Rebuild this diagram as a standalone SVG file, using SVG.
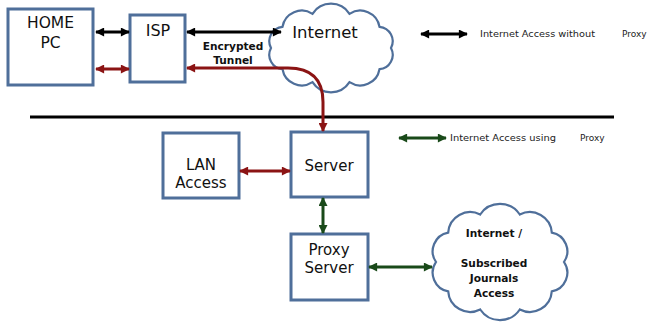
<svg xmlns="http://www.w3.org/2000/svg" width="649" height="323" viewBox="0 0 649 323">
<style>
.box{fill:#fff;stroke:#4f6f9a;stroke-width:3}
.cloud{fill:#fff;stroke:#4f6f9a;stroke-width:2.2}
.t{font-family:"DejaVu Sans",Verdana,sans-serif;font-size:15px;fill:#111;text-anchor:middle}
.tb{font-family:"DejaVu Sans",Verdana,sans-serif;font-size:10.6px;font-weight:bold;fill:#111;text-anchor:middle}
.lg{font-family:"DejaVu Sans",Verdana,sans-serif;font-size:9px;fill:#222}
.k{stroke:#000;stroke-width:3;fill:none}
.r{stroke:#8b1414;stroke-width:3;fill:none}
.g{stroke:#1a4a1a;stroke-width:3;fill:none}
</style>
<defs>
<marker id="ak" viewBox="0 0 10 10" refX="9" refY="5" markerWidth="10" markerHeight="9" markerUnits="userSpaceOnUse" orient="auto-start-reverse"><path d="M0,0 L10,5 L0,10 Z" fill="#000"/></marker>
<marker id="ar" viewBox="0 0 10 10" refX="9" refY="5" markerWidth="10" markerHeight="9" markerUnits="userSpaceOnUse" orient="auto-start-reverse"><path d="M0,0 L10,5 L0,10 Z" fill="#8b1414"/></marker>
<marker id="ag" viewBox="0 0 10 10" refX="9" refY="5" markerWidth="10" markerHeight="9" markerUnits="userSpaceOnUse" orient="auto-start-reverse"><path d="M0,0 L10,5 L0,10 Z" fill="#1a4a1a"/></marker>
</defs>
<rect width="649" height="323" fill="#fff"/>
<g id="home-pc"><rect class="box" x="8" y="9" width="85" height="76"/><text class="t" x="50.5" y="28" style="font-size:15.5px">HOME</text><text class="t" x="50.5" y="48" style="font-size:15.5px">PC</text></g>
<g id="isp"><rect class="box" x="130" y="15" width="55" height="67"/><text class="t" x="158" y="36" style="font-size:16px">ISP</text></g>
<g id="internet"><path class="cloud" d="M312.5,13.8 A22,22 0 0 1 349.5,13.8 A19.6,19.6 0 0 1 379.5,26.8 A14.5,14.5 0 0 1 391,48 A14.5,14.5 0 0 1 379.5,69.2 A19.6,19.6 0 0 1 349.5,82.2 A22,22 0 0 1 312.5,82.2 A19.6,19.6 0 0 1 282.5,69.2 A14.5,14.5 0 0 1 271,48 A14.5,14.5 0 0 1 282.5,26.8 A19.6,19.6 0 0 1 312.5,13.8 Z"/><text class="t" x="325" y="38" style="font-size:16.5px">Internet</text></g>
<g id="lan-access"><rect class="box" x="163" y="133" width="76" height="65"/><text class="t" x="201" y="170">LAN</text><text class="t" x="201" y="188">Access</text></g>
<g id="server"><rect class="box" x="291" y="132" width="77" height="65"/><text class="t" x="329" y="171">Server</text></g>
<g id="proxy-server"><rect class="box" x="291" y="234" width="77" height="66"/><text class="t" x="329" y="255">Proxy</text><text class="t" x="329" y="273">Server</text></g>
<g id="journals"><path class="cloud" d="M480.2,214.5 A23.8,23.8 0 0 1 519.8,214.5 A22,22 0 0 1 551.8,232.6 A19,19 0 0 1 564,262 A19,19 0 0 1 551.8,291.4 A22,22 0 0 1 519.8,309.5 A23.8,23.8 0 0 1 480.2,309.5 A22,22 0 0 1 448.2,291.4 A19,19 0 0 1 436,262 A19,19 0 0 1 448.2,232.6 A22,22 0 0 1 480.2,214.5 Z"/><text class="tb" x="494" y="237">Internet /</text><text class="tb" x="494" y="267">Subscribed</text><text class="tb" x="494" y="282">Journals</text><text class="tb" x="494" y="297">Access</text></g>
<g id="divider"><line x1="30" y1="117" x2="614" y2="117" stroke="#000" stroke-width="3"/></g>
<g id="connectors">
<line class="k" x1="96" y1="32" x2="129" y2="32" marker-start="url(#ak)" marker-end="url(#ak)"/>
<line class="r" x1="96" y1="69" x2="129" y2="69" marker-start="url(#ar)" marker-end="url(#ar)"/>
<line class="k" x1="187" y1="32" x2="281" y2="32" marker-start="url(#ak)" marker-end="url(#ak)"/>
<path class="r" d="M187,68 L288,68 C312,68 323,80 323,102 L323,131" marker-start="url(#ar)" marker-end="url(#ar)"/>
<text class="tb" x="233" y="50">Encrypted</text>
<text class="tb" x="233" y="64">Tunnel</text>
<line class="r" x1="240" y1="171" x2="290" y2="171" marker-start="url(#ar)" marker-end="url(#ar)"/>
<line class="g" x1="323" y1="198" x2="323" y2="233" marker-start="url(#ag)" marker-end="url(#ag)"/>
<line class="g" x1="369" y1="267" x2="432" y2="267" marker-start="url(#ag)" marker-end="url(#ag)"/>
</g>
<g id="legend">
<line class="k" x1="421" y1="34" x2="467" y2="34" marker-start="url(#ak)" marker-end="url(#ak)"/>
<text class="lg" x="480" y="37" textLength="115" lengthAdjust="spacingAndGlyphs">Internet Access without</text>
<text class="lg" x="622" y="37">Proxy</text>
<line class="g" x1="399" y1="138" x2="446" y2="138" marker-start="url(#ag)" marker-end="url(#ag)"/>
<text class="lg" x="450" y="141" textLength="106" lengthAdjust="spacingAndGlyphs">Internet Access using</text>
<text class="lg" x="580" y="141">Proxy</text>
</g>
</svg>
